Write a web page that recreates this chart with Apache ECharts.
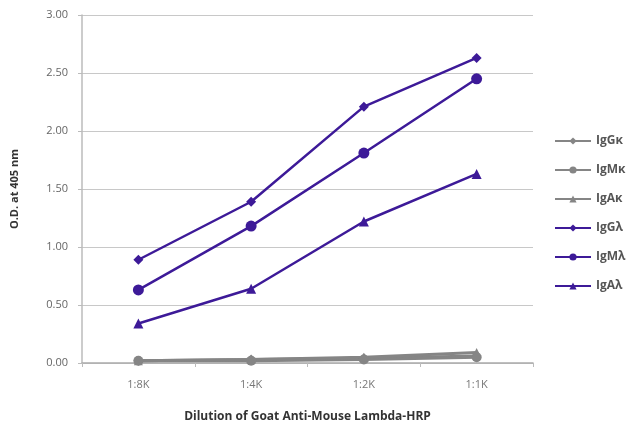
<!DOCTYPE html>
<html>
<head>
<meta charset="utf-8">
<script src="https://cdn.jsdelivr.net/npm/echarts@6/dist/echarts.min.js"></script>
<style>
html,body{margin:0;padding:0;background:#fff;}
#chart{width:632px;height:425px;}
</style>
</head>
<body>
<div id="chart"></div>
<script>
const categories = ['1:8K', '1:4K', '1:2K', '1:1K'];
const seriesNames = ['IgGκ', 'IgMκ', 'IgAκ', 'IgGλ', 'IgMλ', 'IgAλ'];
const IgGk = [0.02, 0.03, 0.04, 0.06];
const IgMk = [0.02, 0.02, 0.03, 0.05];
const IgAk = [0.02, 0.03, 0.05, 0.09];
const IgGl = [0.89, 1.39, 2.21, 2.63];
const IgMl = [0.63, 1.18, 1.81, 2.45];
const IgAl = [0.34, 0.64, 1.22, 1.63];
const yTicks = [0, 0.5, 1, 1.5, 2, 2.5, 3];

const gray = '#858585';
const purple = '#3d1a98';
const diamond = 'path://M0,-1L1,0L0,1L-1,0Z';
const tri = 'triangle';

function mk(name, data, color, symbol, size, width) {
  return {
    name: name, type: 'line', data: data,
    symbol: symbol, symbolSize: size,
    lineStyle: { color: color, width: width },
    itemStyle: { color: color },
    emphasis: { disabled: true }
  };
}

const chart = echarts.init(document.getElementById('chart'), null, { renderer: 'canvas' });
chart.setOption({
  animation: false,
  textStyle: { fontFamily: 'Open Sans' },
  grid: { left: 82, right: 99, top: 15, bottom: 62, containLabel: false, outerBoundsMode: 'none' },
  legend: {
    orient: 'vertical',
    left: 554, top: 135,
    padding: 0,
    itemWidth: 36, itemHeight: 9, itemGap: 17,
    data: seriesNames,
    textStyle: { fontSize: 12, fontWeight: 'bold', color: '#555', fontFamily: 'Open Sans' }
  },
  xAxis: {
    type: 'category',
    data: categories,
    boundaryGap: true,
    axisLine: { lineStyle: { color: '#aaa', width: 1.5 } },
    axisTick: { show: true, alignWithLabel: false, length: 4, lineStyle: { color: '#bbb' } },
    axisLabel: { color: '#777', fontSize: 11, margin: 16 },
    name: 'Dilution of Goat Anti-Mouse Lambda-HRP',
    nameLocation: 'middle',
    nameGap: 48,
    nameTextStyle: { fontWeight: 'bold', fontSize: 12, color: '#333' }
  },
  yAxis: {
    type: 'value',
    min: 0, max: 3, interval: 0.5,
    axisLine: { show: true, lineStyle: { color: '#bbb', width: 1.5 } },
    axisTick: { show: true, length: 4, lineStyle: { color: '#bbb' } },
    splitLine: { lineStyle: { color: '#c8c8c8', width: 1.2 } },
    axisLabel: { color: '#666', fontSize: 11, margin: 14, formatter: function (v) { return v.toFixed(2); } },
    name: 'O.D. at 405 nm',
    nameLocation: 'middle',
    nameGap: 62,
    nameTextStyle: { fontWeight: 'bold', fontSize: 11, color: '#333' }
  },
  series: [
    mk(seriesNames[0], IgGk, gray, diamond, 10, 3),
    mk(seriesNames[1], IgMk, gray, 'circle', 10, 3),
    mk(seriesNames[2], IgAk, gray, tri, 9, 3),
    mk(seriesNames[3], IgGl, purple, diamond, 10, 2.5),
    mk(seriesNames[4], IgMl, purple, 'circle', 11, 2.5),
    mk(seriesNames[5], IgAl, purple, tri, 10, 2.5)
  ]
});
</script>
</body>
</html>
